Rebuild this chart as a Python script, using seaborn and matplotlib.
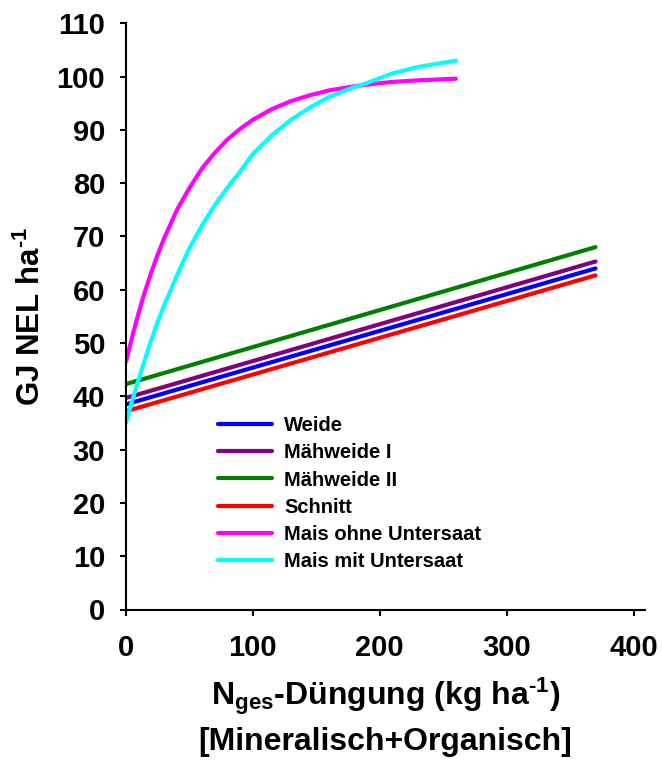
import matplotlib
matplotlib.use("Agg")
import matplotlib.pyplot as plt
import seaborn as sns
import pandas as pd

# ---- data ----
lin_x = [0, 370]
weide = [38.5, 64.0]
maehweide1 = [39.7, 65.3]
maehweide2 = [42.3, 68.0]
schnitt = [37.2, 62.7]

mais_x = [0, 5, 10, 15, 20, 25, 30, 40, 50, 60, 70, 80, 90, 100, 115, 130, 145,
          160, 175, 190, 210, 230, 260]
mais_ohne = [46.5, 51.3, 55.7, 59.7, 63.3, 66.6, 69.6, 74.9, 79.1, 82.8, 85.7, 88.2,
             90.2, 91.9, 93.9, 95.4, 96.5, 97.4, 98.0, 98.5, 99.0, 99.3, 99.6]
mais_mit = [35.0, 39.3, 43.2, 47.0, 50.6, 54.0, 57.0, 62.6, 67.8, 72.1, 75.9, 79.2,
            82.2, 85.5, 89.0, 91.9, 94.2, 96.2, 97.6, 98.8, 100.6, 101.8, 103.0]

series_names = ["Weide", "Mähweide I", "Mähweide II", "Schnitt",
                "Mais ohne Untersaat", "Mais mit Untersaat"]
colors = ["#0000FF", "#800080", "#008000", "#FF0000", "#FF00FF", "#00FFFF"]

x_ticks = [0, 100, 200, 300, 400]
y_ticks = list(range(0, 111, 10))

rows = []
for name, xs, ys in [("Weide", lin_x, weide), ("Mähweide I", lin_x, maehweide1),
                     ("Mähweide II", lin_x, maehweide2), ("Schnitt", lin_x, schnitt),
                     ("Mais ohne Untersaat", mais_x, mais_ohne),
                     ("Mais mit Untersaat", mais_x, mais_mit)]:
    for xv, yv in zip(xs, ys):
        rows.append({"N": xv, "NEL": yv, "Serie": name})
df = pd.DataFrame(rows)

sns.set_style("ticks", rc={"text.color": "black", "axes.labelcolor": "black",
                           "xtick.color": "black", "ytick.color": "black",
                           "axes.edgecolor": "black"})
plt.rcParams["font.family"] = ["Liberation Sans", "DejaVu Sans"]
plt.rcParams["font.weight"] = "bold"
plt.rcParams["mathtext.fontset"] = "custom"
plt.rcParams["mathtext.rm"] = "Liberation Sans:bold"
plt.rcParams["mathtext.it"] = "Liberation Sans:bold"
plt.rcParams["mathtext.bf"] = "Liberation Sans:bold"
plt.rcParams["mathtext.default"] = "rm"

fig = plt.figure(figsize=(6.62, 7.63), dpi=100)
ax = fig.add_axes([126 / 662, 1 - 609.5 / 763, (645 - 126) / 662, (609.5 - 23.3) / 763])

sns.lineplot(data=df, x="N", y="NEL", hue="Serie", hue_order=series_names,
             palette=dict(zip(series_names, colors)), linewidth=3, sort=False,
             estimator=None, ax=ax)

ax.set_xlim(0, 409)
ax.set_ylim(0, 110)
ax.set_xticks(x_ticks)
ax.set_yticks(y_ticks)
ax.tick_params(axis="both", labelsize=21, width=1.5, length=4, direction="out")
ax.tick_params(axis="x", pad=14)
ax.tick_params(axis="y", pad=11)
for lbl in ax.get_xticklabels() + ax.get_yticklabels():
    lbl.set_fontweight("bold")
for s in ["top", "right"]:
    ax.spines[s].set_visible(False)
for s in ["left", "bottom"]:
    ax.spines[s].set_linewidth(1.5)

ax.set_xlabel("N$_{ges}$-Düngung (kg ha$^{\u20101}$)\n[Mineralisch+Organisch]",
              fontsize=23, fontweight="bold", linespacing=1.45)
ax.xaxis.set_label_coords(0.5, -0.112)
ax.set_ylabel("GJ NEL ha$^{\u20101}$", fontsize=22.5, fontweight="bold")
ax.yaxis.set_label_coords(-0.152, 0.5)

leg = ax.legend(loc="upper left", bbox_to_anchor=(218 / 662, 1 - 416 / 763),
                bbox_transform=fig.transFigure, frameon=False, borderaxespad=0,
                borderpad=0, handlelength=2.7, handletextpad=0.6,
                labelspacing=0.41, prop={"weight": "bold", "size": 14.5})
for h in leg.get_lines():
    h.set_linewidth(3)

fig.savefig("out.png", dpi=100)
